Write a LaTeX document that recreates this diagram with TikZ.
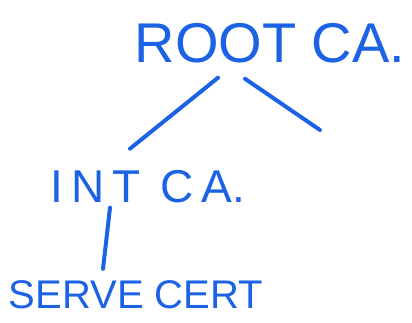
\documentclass[tikz,border=0pt]{standalone}
\usepackage{fontspec}
\setmainfont{Liberation Sans}
\definecolor{pen}{RGB}{28,98,228}
\begin{document}
\begin{tikzpicture}[x=1pt,y=-1pt,
  lbl/.style={inner sep=0pt,anchor=base,text=pen},
  stroke/.style={draw=pen,line width=4pt,line cap=round}]
\useasboundingbox (0,0) rectangle (412,322);
\node[lbl,font=\fontsize{56}{60}\selectfont] (root) at (270,62) {ROOT CA.};
\node[lbl,font=\fontsize{46}{50}\selectfont] (int) at (148,202) {I\,N\,T \,C\,A.};
\node[lbl,font=\fontsize{40}{44}\selectfont] (serve) at (136,308) {SERVE CERT};
\coordinate (rfree) at (320,130);
\draw[stroke] ([shift={(-52,15)}]root.south) -- ([shift={(-18,-21)}]int.north);
\draw[stroke] ([shift={(-25,16)}]root.south) -- (rfree);
\draw[stroke] ([shift={(-38,5)}]int.south) -- ([shift={(-33,-11)}]serve.north);
\end{tikzpicture}
\end{document}
